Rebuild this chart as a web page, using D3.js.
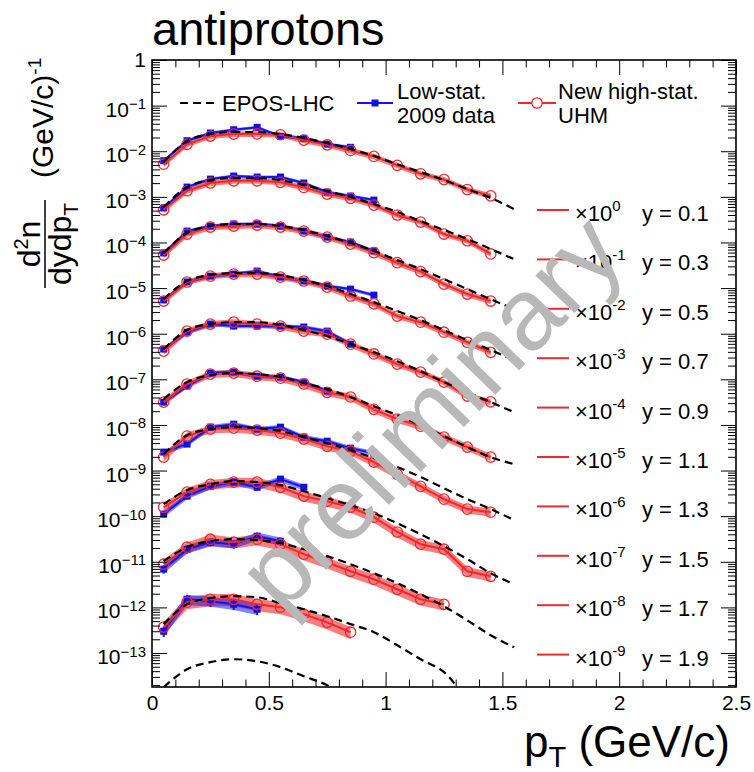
<!DOCTYPE html>
<html>
<head>
<meta charset="utf-8">
<script src="https://cdn.jsdelivr.net/npm/d3@7"></script>
<style>
  body { margin: 0; background: #fff; }
  svg { display: block; font-family: "Liberation Sans", Arial, Helvetica, sans-serif; }
</style>
</head>
<body>
<svg id="chart" width="754" height="772"></svg>
<script>
// pT bin centres (GeV/c)
const ptBins = [0.05, 0.15, 0.25, 0.35, 0.45, 0.55, 0.65, 0.75, 0.85, 0.95, 1.05, 1.15, 1.25, 1.35, 1.45];
const eposPt = [0.05, 0.15, 0.25, 0.35, 0.45, 0.55, 0.65, 0.75, 0.85, 0.95, 1.05, 1.15, 1.25, 1.35, 1.45, 1.55];

const rapidities = ["0.1", "0.3", "0.5", "0.7", "0.9", "1.1", "1.3", "1.5", "1.7", "1.9"];
const scaleExp = [0, -1, -2, -3, -4, -5, -6, -7, -8, -9];

// new high-stat. UHM, d2n/dydpT before scaling
const uhmY01 = [5.2e-3, 1.42e-2, 2.15e-2, 2.38e-2, 2.4e-2, 2.3e-2, 1.75e-2, 1.38e-2, 1.04e-2, 7.7e-3, 4.9e-3, 3.2e-3, 2.4e-3, 1.45e-3, 1.05e-3];
const uhmY03 = [5.2e-3, 1.36e-2, 2.01e-2, 2.25e-2, 2.25e-2, 2.08e-2, 1.61e-2, 1.15e-2, 9.3e-3, 6.6e-3, 4.0e-3, 2.8e-3, 1.53e-3, 1.09e-3, 5.6e-4];
const uhmY05 = [5.3e-3, 1.53e-2, 2.18e-2, 2.29e-2, 2.41e-2, 2.18e-2, 1.78e-2, 1.31e-2, 9.2e-3, 6.0e-3, 3.6e-3, 2.3e-3, 1.22e-3, 7.4e-4, 5.2e-4];
const uhmY07 = [5.2e-3, 1.36e-2, 1.83e-2, 2.03e-2, 2.03e-2, 1.74e-2, 1.43e-2, 1.05e-2, 6.7e-3, 4.5e-3, 2.43e-3, 1.79e-3, 1.08e-3, 6.5e-4, 3.9e-4];
const uhmY09 = [4.15e-3, 1.14e-2, 1.63e-2, 1.79e-2, 1.63e-2, 1.47e-2, 1.14e-2, 9.8e-3, 5.9e-3, 3.6e-3, 2.15e-3, 1.44e-3, 8.7e-4, 4.3e-4, 3.2e-4];
const uhmY11 = [3.16e-3, 7.9e-3, 1.30e-2, 1.37e-2, 1.17e-2, 1.06e-2, 7.9e-3, 5.2e-3, 4.1e-3, 2.2e-3, 1.34e-3, 9.4e-4, 5.4e-4, 3.26e-4, 1.97e-4];
const uhmY13 = [1.97e-3, 5.7e-3, 8.1e-3, 8.5e-3, 7.7e-3, 6.6e-3, 4.9e-3, 3.4e-3, 2.66e-3, 1.53e-3, 8.3e-4, 4.5e-4, 2.36e-4, 1.43e-4, 1.22e-4];
const uhmY15 = [1.57e-3, 3.36e-3, 5.0e-3, 5.6e-3, 5.6e-3, 4.3e-3, 2.75e-3, 2.13e-3, 1.57e-3, 9.5e-4, 4.5e-4, 2.43e-4, 1.89e-4, 6.2e-5, 4.8e-5];
const uhmY17 = [8.85e-4, 2.09e-3, 3.13e-3, 2.69e-3, 3.13e-3, 2.43e-3, 1.47e-3, 9.8e-4, 6.2e-4, 4.15e-4, 2.5e-4, 1.51e-4, 1.17e-4];
const uhmY19 = [3.7e-4, 1.30e-3, 1.51e-3, 1.51e-3, 1.17e-3, 1.01e-3, 7.1e-4, 4.7e-4, 2.86e-4];
const uhmRelErr = [0.14, 0.14, 0.15, 0.15, 0.16, 0.18, 0.2, 0.24, 0.27, 0.3];

// low-stat. 2009 data
const lowY01 = [6.2e-3, 1.70e-2, 2.51e-2, 2.96e-2, 3.34e-2, 2.12e-2, 1.92e-2, 1.44e-2, 1.22e-2];
const lowY03 = [5.7e-3, 1.64e-2, 2.45e-2, 2.86e-2, 2.72e-2, 2.72e-2, 2.01e-2, 1.27e-2, 1.04e-2, 8.5e-3];
const lowY05 = [5.9e-3, 1.78e-2, 2.29e-2, 2.54e-2, 2.54e-2, 2.29e-2, 1.78e-2, 1.31e-2, 1.02e-2, 6.5e-3];
const lowY07 = [5.5e-3, 1.36e-2, 1.83e-2, 2.03e-2, 2.36e-2, 1.74e-2, 1.43e-2, 1.11e-2, 9.5e-3, 7.0e-3];
const lowY09 = [4.6e-3, 1.08e-2, 1.63e-2, 1.47e-2, 1.47e-2, 1.47e-2, 1.40e-2, 1.14e-2, 5.9e-3];
const lowY11 = [3.16e-3, 7.1e-3, 1.37e-2, 1.44e-2, 1.17e-2, 1.12e-2, 8.7e-3, 5.5e-3];
const lowY13 = [2.54e-3, 3.8e-3, 8.95e-3, 1.04e-2, 8.1e-3, 8.95e-3, 5.4e-3, 4.4e-3, 3.1e-3, 2.4e-3];
const lowY15 = [1.11e-3, 2.75e-3, 4.55e-3, 5.6e-3, 4.3e-3, 6.5e-3, 4.3e-3];
const lowY17 = [6.9e-4, 1.89e-3, 2.69e-3, 2.43e-3, 3.64e-3, 2.83e-3];
const lowY19 = [3.0e-4, 1.51e-3, 1.37e-3, 1.17e-3, 9.1e-4];
const lowRelErr = [0.08, 0.08, 0.08, 0.09, 0.1, 0.1, 0.12, 0.15, 0.2, 0.25];

// EPOS-LHC
const eposY01 = [5.8e-3, 1.67e-2, 2.38e-2, 2.64e-2, 2.64e-2, 2.38e-2, 1.95e-2, 1.51e-2, 1.12e-2, 7.9e-3, 5.2e-3, 3.5e-3, 2.33e-3, 1.48e-3, 9.4e-4, 5.4e-4];
const eposY03 = [5.97e-3, 1.64e-2, 2.33e-2, 2.58e-2, 2.58e-2, 2.33e-2, 1.82e-2, 1.34e-2, 9.9e-3, 6.95e-3, 4.65e-3, 2.94e-3, 1.87e-3, 1.19e-3, 7.2e-4, 4.3e-4];
const eposY05 = [5.86e-3, 1.61e-2, 2.29e-2, 2.54e-2, 2.54e-2, 2.29e-2, 1.87e-2, 1.38e-2, 9.7e-3, 6.5e-3, 4.1e-3, 2.61e-3, 1.57e-3, 9.5e-4, 5.7e-4, 3.46e-4];
const eposY07 = [5.74e-3, 1.43e-2, 1.93e-2, 2.13e-2, 2.13e-2, 1.93e-2, 1.50e-2, 1.11e-2, 7.4e-3, 4.93e-3, 3.13e-3, 1.99e-3, 1.2e-3, 7.2e-4, 4.4e-4, 2.64e-4];
const eposY09 = [4.59e-3, 1.2e-2, 1.63e-2, 1.79e-2, 1.79e-2, 1.55e-2, 1.2e-2, 8.85e-3, 5.9e-3, 3.95e-3, 2.5e-3, 1.51e-3, 8.7e-4, 5.2e-4, 3.16e-4, 1.91e-4];
const eposY11 = [3.68e-3, 8.7e-3, 1.24e-2, 1.37e-2, 1.30e-2, 1.12e-2, 8.3e-3, 6.1e-3, 4.07e-3, 2.58e-3, 1.64e-3, 9.9e-4, 5.7e-4, 3.26e-4, 1.97e-4, 1.38e-4];
const eposY13 = [2.29e-3, 5.97e-3, 8.1e-3, 8.95e-3, 8.5e-3, 7.3e-3, 5.4e-3, 3.99e-3, 2.8e-3, 1.87e-3, 1.19e-3, 7.2e-4, 4.1e-4, 2.36e-4, 1.43e-4, 8.2e-5];
const eposY15 = [1.83e-3, 3.72e-3, 5.0e-3, 5.86e-3, 5.6e-3, 4.8e-3, 3.53e-3, 2.48e-3, 1.74e-3, 1.16e-3, 7.0e-4, 4.0e-4, 2.2e-4, 1.14e-4, 5.6e-5, 3.2e-5];
const eposY17 = [1.03e-3, 2.09e-3, 2.83e-3, 3.13e-3, 2.98e-3, 2.56e-3, 1.89e-3, 1.33e-3, 8.85e-4, 5.6e-4, 3.4e-4, 1.95e-4, 1.06e-4, 5.2e-5, 2.45e-5, 1.34e-5];
const eposY19 = [4.3e-4, 1.17e-3, 1.59e-3, 1.76e-3, 1.67e-3, 1.24e-3, 9.1e-4, 6.4e-4, 4.3e-4, 2.86e-4, 1.48e-4, 7.3e-5, 3.8e-5, 9.7e-6, 2.7e-6, 7.8e-7];
const eposY21 = [1.78e-4, 4.4e-4, 6.3e-4, 7.3e-4, 6.6e-4, 4.9e-4, 3.1e-4, 1.97e-4, 9.7e-5, 4.5e-5]; // y = 2.1, x10^-10, no data
const eposY21Exp = -10;

const xTickValues = [0, 0.5, 1, 1.5, 2, 2.5];
const xTickLabels = ["0", "0.5", "1", "1.5", "2", "2.5"];
const yDecadeExps = [0, -1, -2, -3, -4, -5, -6, -7, -8, -9, -10, -11, -12, -13];

const uhm = [uhmY01, uhmY03, uhmY05, uhmY07, uhmY09, uhmY11, uhmY13, uhmY15, uhmY17, uhmY19];
const lowStat = [lowY01, lowY03, lowY05, lowY07, lowY09, lowY11, lowY13, lowY15, lowY17, lowY19];
const epos = [eposY01, eposY03, eposY05, eposY07, eposY09, eposY11, eposY13, eposY15, eposY17, eposY19];

const RED = "#f0282c";
const BLUE = "#1414f0";

const svg = d3.select("#chart");
const plot = { left: 152, right: 736, top: 60, bottom: 687 };

const x = d3.scaleLinear().domain([0, 2.5]).range([plot.left, plot.right]);
const y = d3.scaleLog().domain([1.8e-14, 1]).range([plot.bottom, plot.top]);

svg.append("defs").append("clipPath").attr("id", "plotClip")
  .append("rect")
  .attr("x", plot.left).attr("y", plot.top)
  .attr("width", plot.right - plot.left).attr("height", plot.bottom - plot.top);

// turn a series into points, scaled by 10^exp
const toPoints = (vals, pts, exp, err) => vals.map((v, i) => {
  const f = Math.pow(10, exp);
  return { pt: pts[i], v: v * f, lo: v * f * (1 - (err || 0)), hi: v * f * (1 + (err || 0)) };
});

const lineGen = d3.line().x(d => x(d.pt)).y(d => y(d.v));
const smoothGen = d3.line().x(d => x(d.pt)).y(d => y(d.v)).curve(d3.curveMonotoneX);
const bandGen = d3.area().x(d => x(d.pt)).y0(d => y(d.lo)).y1(d => y(d.hi));

const g = svg.append("g").attr("clip-path", "url(#plotClip)");

const redSeries = uhm.map((s, i) => toPoints(s, ptBins, scaleExp[i], uhmRelErr[i]));
const blueSeries = lowStat.map((s, i) => toPoints(s, ptBins, scaleExp[i], lowRelErr[i]));
const eposSeries = epos.map((s, i) => toPoints(s, eposPt, scaleExp[i]));
eposSeries.push(toPoints(eposY21, eposPt, eposY21Exp));

// red error bands
g.append("g").selectAll("path").data(redSeries).join("path")
  .attr("d", bandGen)
  .attr("fill", "rgba(240,40,40,0.6)")
  .attr("stroke", "none");

// blue bands, lines, markers
g.append("g").selectAll("path").data(blueSeries).join("path")
  .attr("d", bandGen)
  .attr("fill", "rgba(30,30,255,0.55)")
  .attr("stroke", "none");

g.append("g").selectAll("path").data(blueSeries).join("path")
  .attr("d", lineGen)
  .attr("fill", "none")
  .attr("stroke", BLUE)
  .attr("stroke-width", 2);

const bluePts = blueSeries.flat();
g.append("g").selectAll("line").data(bluePts).join("line")
  .attr("x1", d => x(d.pt)).attr("x2", d => x(d.pt))
  .attr("y1", d => y(d.lo)).attr("y2", d => y(d.hi))
  .attr("stroke", BLUE).attr("stroke-width", 2);
g.append("g").selectAll("rect").data(bluePts).join("rect")
  .attr("x", d => x(d.pt) - 3.5).attr("y", d => y(d.v) - 3.5)
  .attr("width", 7).attr("height", 7)
  .attr("fill", "#1010e6");

// red lines and open circles
g.append("g").selectAll("path").data(redSeries).join("path")
  .attr("d", lineGen)
  .attr("fill", "none")
  .attr("stroke", RED)
  .attr("stroke-width", 2);

g.append("g").selectAll("circle").data(redSeries.flat()).join("circle")
  .attr("cx", d => x(d.pt)).attr("cy", d => y(d.v))
  .attr("r", 5.2)
  .attr("fill", "none")
  .attr("stroke", RED)
  .attr("stroke-width", 1.3);

// EPOS-LHC dashed
g.append("g").selectAll("path").data(eposSeries).join("path")
  .attr("d", smoothGen)
  .attr("fill", "none")
  .attr("stroke", "#000")
  .attr("stroke-width", 2.2)
  .attr("stroke-dasharray", "8,5");

// ---- axes ----
const styleAxis = sel => {
  sel.select(".domain").remove();
  sel.selectAll(".tick line").attr("stroke", "#000").attr("stroke-width", 1);
  sel.attr("font-family", null).attr("font-size", 21);
  sel.selectAll(".tick text").attr("fill", "#000");
};

const xMinor = d3.range(0, 25).map(k => k / 10).filter(v => !xTickValues.includes(v));

svg.append("g").attr("transform", `translate(0,${plot.bottom})`)
  .call(d3.axisBottom(x).tickValues(xTickValues).tickSize(-15).tickSizeOuter(0).tickPadding(8)
    .tickFormat((d, i) => xTickLabels[i]))
  .call(styleAxis);
svg.append("g").attr("transform", `translate(0,${plot.bottom})`)
  .call(d3.axisBottom(x).tickValues(xMinor).tickSize(-7.5).tickSizeOuter(0).tickFormat(""))
  .call(styleAxis);
svg.append("g").attr("transform", `translate(0,${plot.top})`)
  .call(d3.axisTop(x).tickValues(xTickValues).tickSize(-15).tickSizeOuter(0).tickFormat(""))
  .call(styleAxis);
svg.append("g").attr("transform", `translate(0,${plot.top})`)
  .call(d3.axisTop(x).tickValues(xMinor).tickSize(-7.5).tickSizeOuter(0).tickFormat(""))
  .call(styleAxis);

const yMajor = yDecadeExps.map(e => Math.pow(10, e));
const yMinor = [];
for (let e = -14; e < 0; e++) {
  for (let k = 2; k <= 9; k++) {
    const v = k * Math.pow(10, e);
    if (v >= y.domain()[0] && v <= 1) yMinor.push(v);
  }
}

const gyl = svg.append("g").attr("transform", `translate(${plot.left},0)`)
  .call(d3.axisLeft(y).tickValues(yMajor).tickSize(-15).tickSizeOuter(0).tickPadding(6).tickFormat(""))
  .call(styleAxis);
gyl.selectAll(".tick text").each(function (d) {
  const t = d3.select(this);
  const e = Math.round(Math.log10(d));
  if (e === 0) {
    t.attr("dy", "0.33em").text("1");
  } else {
    t.attr("dy", "0.5em");
    t.append("tspan").text("10");
    t.append("tspan").attr("dy", "-0.5em").attr("font-size", 15).text("\u2212" + (-e));
  }
});
svg.append("g").attr("transform", `translate(${plot.left},0)`)
  .call(d3.axisLeft(y).tickValues(yMinor).tickSize(-8).tickSizeOuter(0).tickFormat(""))
  .call(styleAxis);
svg.append("g").attr("transform", `translate(${plot.right},0)`)
  .call(d3.axisRight(y).tickValues(yMajor).tickSize(-15).tickSizeOuter(0).tickFormat(""))
  .call(styleAxis);
svg.append("g").attr("transform", `translate(${plot.right},0)`)
  .call(d3.axisRight(y).tickValues(yMinor).tickSize(-8).tickSizeOuter(0).tickFormat(""))
  .call(styleAxis);

// frame
svg.append("rect")
  .attr("x", plot.left).attr("y", plot.top)
  .attr("width", plot.right - plot.left).attr("height", plot.bottom - plot.top)
  .attr("fill", "none").attr("stroke", "#000").attr("stroke-width", 1.6);

// ---- top legend ----
const leg = svg.append("g").attr("font-size", 22).attr("fill", "#000");
leg.append("line").attr("x1", 180).attr("x2", 217).attr("y1", 103).attr("y2", 103)
  .attr("stroke", "#000").attr("stroke-width", 2.2).attr("stroke-dasharray", "8,5");
leg.append("text").attr("x", 222).attr("y", 111).text("EPOS-LHC");

leg.append("line").attr("x1", 357).attr("x2", 393).attr("y1", 103).attr("y2", 103)
  .attr("stroke", BLUE).attr("stroke-width", 2);
leg.append("rect").attr("x", 371.5).attr("y", 99.5).attr("width", 7).attr("height", 7).attr("fill", "#1010e6");
leg.append("text").attr("x", 397).attr("y", 99).text("Low-stat.");
leg.append("text").attr("x", 397).attr("y", 123).text("2009 data");

leg.append("line").attr("x1", 518).attr("x2", 556).attr("y1", 103).attr("y2", 103)
  .attr("stroke", RED).attr("stroke-width", 2);
leg.append("circle").attr("cx", 537).attr("cy", 103).attr("r", 5.2)
  .attr("fill", "#fff").attr("stroke", RED).attr("stroke-width", 1.3);
leg.append("text").attr("x", 558).attr("y", 99).text("New high-stat.");
leg.append("text").attr("x", 558).attr("y", 123).text("UHM");

// ---- right legend: scale factors ----
const rows = svg.append("g").attr("font-size", 22).attr("fill", "#000")
  .selectAll("g").data(rapidities).join("g")
  .attr("transform", (d, i) => `translate(0,${213 + i * 49.4})`);
rows.append("line").attr("x1", 537).attr("x2", 569).attr("y1", -3).attr("y2", -3)
  .attr("stroke", RED).attr("stroke-width", 2);
rows.append("text").attr("x", 575).attr("y", 8)
  .call(t => t.append("tspan").text("\u00d710"))
  .call(t => t.append("tspan").attr("dy", -10).attr("font-size", 15)
    .text((d, i) => scaleExp[i] === 0 ? "0" : "-" + (-scaleExp[i])));
rows.append("text").attr("x", 642).attr("y", 8).text(d => "y = " + d);

// ---- axis titles ----
svg.append("text").attr("x", 152).attr("y", 45).attr("font-size", 47).text("antiprotons");

svg.append("text").attr("x", 730).attr("y", 757).attr("font-size", 44).attr("text-anchor", "end")
  .call(t => t.append("tspan").text("p"))
  .call(t => t.append("tspan").attr("dy", 10).attr("font-size", 29).text("T"))
  .call(t => t.append("tspan").attr("dy", -10).text(" (GeV/c)"));

const yt = svg.append("g").attr("transform", "rotate(-90)");
yt.append("text").attr("x", -178).attr("y", 53).attr("font-size", 30)
  .call(t => t.append("tspan").text("(GeV/c)"))
  .call(t => t.append("tspan").attr("dy", -12).attr("font-size", 19).text("-1"));
yt.append("text").attr("x", -244).attr("y", 40).attr("font-size", 32).attr("text-anchor", "middle")
  .call(t => t.append("tspan").text("d"))
  .call(t => t.append("tspan").attr("dy", -12).attr("font-size", 20).text("2"))
  .call(t => t.append("tspan").attr("dy", 12).text("n"));
yt.append("line").attr("x1", -288).attr("x2", -200).attr("y1", 45).attr("y2", 45)
  .attr("stroke", "#000").attr("stroke-width", 1.5);
yt.append("text").attr("x", -244).attr("y", 71).attr("font-size", 32).attr("text-anchor", "middle")
  .call(t => t.append("tspan").text("dydp"))
  .call(t => t.append("tspan").attr("dy", 7).attr("font-size", 21).text("T"));

// ---- watermark ----
svg.append("text")
  .attr("transform", "translate(430,412) rotate(-46)")
  .attr("text-anchor", "middle")
  .attr("dominant-baseline", "central")
  .attr("font-size", 102)
  .attr("fill", "#b8b8b8")
  .text("preliminary");
</script>
</body>
</html>
